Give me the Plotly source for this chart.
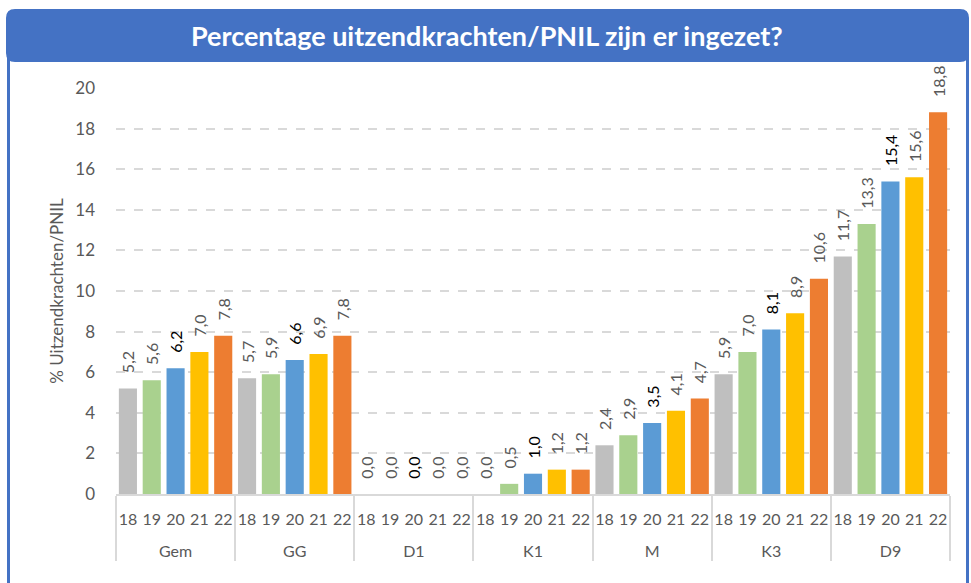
import plotly.graph_objects as go

groups = ["Gem", "GG", "D1", "K1", "M", "K3", "D9"]
years = ["18", "19", "20", "21", "22"]
values = {
    "Gem": [5.2, 5.6, 6.2, 7.0, 7.8],
    "GG": [5.7, 5.9, 6.6, 6.9, 7.8],
    "D1": [0.0, 0.0, 0.0, 0.0, 0.0],
    "K1": [0.0, 0.5, 1.0, 1.2, 1.2],
    "M": [2.4, 2.9, 3.5, 4.1, 4.7],
    "K3": [5.9, 7.0, 8.1, 8.9, 10.6],
    "D9": [11.7, 13.3, 15.4, 15.6, 18.8],
}
year_colors = ["#BFBFBF", "#A9D18E", "#5B9BD5", "#FFC000", "#ED7D31"]
label_colors = ["#595959", "#595959", "#000000", "#595959", "#595959"]
title = "Percentage uitzendkrachten/PNIL zijn er ingezet?"
y_title = "% Uitzendkrachten/PNIL"

W, H = 971, 583
L, R, T, B = 116, 21, 88, 89
PW, PH = W - L - R, H - T - B


def px(p):
    return (p - L) / PW


def py(q):
    return (H - B - q) / PH


xg, xy, yv, cols, tcols, texts = [], [], [], [], [], []
for g in groups:
    for i, yr in enumerate(years):
        v = values[g][i]
        xg.append("\u00a0<br>" + g)
        xy.append(yr)
        yv.append(v)
        cols.append(year_colors[i])
        tcols.append(label_colors[i])
        texts.append(f"{v:.1f}".replace(".", ","))

FONT = "Lato"

fig = go.Figure(
    go.Bar(
        x=[xg, xy],
        y=yv,
        marker=dict(color=cols, line=dict(width=0)),
        text=texts,
        texttemplate="\u00a0\u00a0\u00a0%{text}",
        textposition="outside",
        textangle=-90,
        constraintext="none",
        textfont=dict(color=tcols, size=16, family=FONT),
        cliponaxis=False,
        hoverinfo="skip",
    )
)


def rounded(x0, y0, x1, y1, r):
    rx, ry = r / PW, r / PH
    X0, X1 = px(x0), px(x1)
    Y0, Y1 = py(y0), py(y1)  # Y0 top (larger), Y1 bottom
    return (
        f"M {X0+rx},{Y0} L {X1-rx},{Y0} Q {X1},{Y0} {X1},{Y0-ry} "
        f"L {X1},{Y1+ry} Q {X1},{Y1} {X1-rx},{Y1} "
        f"L {X0+rx},{Y1} Q {X0},{Y1} {X0},{Y1+ry} "
        f"L {X0},{Y0-ry} Q {X0},{Y0} {X0+rx},{Y0} Z"
    )


shapes = [
    dict(type="line", xref="paper", yref="paper", x0=px(8.5), x1=px(8.5),
         y0=py(40), y1=py(590), line=dict(color="#4472C4", width=3), layer="below"),
    dict(type="line", xref="paper", yref="paper", x0=px(967.5), x1=px(967.5),
         y0=py(40), y1=py(590), line=dict(color="#4472C4", width=3), layer="below"),
    dict(type="path", xref="paper", yref="paper", path=rounded(6, 9, 969, 62, 9),
         fillcolor="#4472C4", line=dict(width=0), layer="above"),
]

fig.update_layout(
    width=W,
    height=H,
    margin=dict(l=L, r=R, t=T, b=B, pad=0, autoexpand=False),
    paper_bgcolor="white",
    plot_bgcolor="white",
    font=dict(family=FONT, color="#595959", size=16),
    showlegend=False,
    bargap=0.24,
    shapes=shapes,
    annotations=[
        dict(text=f"<b>{title}</b>", xref="paper", yref="paper", x=px(487), y=py(36),
             showarrow=False, font=dict(color="white", size=27, family=FONT),
             xanchor="center", yanchor="middle"),
    ],
)

fig.update_yaxes(
    range=[0, 20],
    dtick=2,
    automargin=False,
    showgrid=True,
    gridcolor="#D9D9D9",
    gridwidth=1.5,
    griddash="dash",
    zeroline=False,
    showline=False,
    ticks="",
    ticklabelstandoff=20,
    tickfont=dict(size=17, color="#595959"),
    title=dict(text=y_title, font=dict(size=17, color="#595959"), standoff=7),
)
fig.update_xaxes(
    type="multicategory",
    automargin=False,
    tickangle=0,
    ticklabelstandoff=10,
    showline=True,
    linecolor="#D9D9D9",
    linewidth=2,
    ticks="",
    showdividers=True,
    dividercolor="#D9D9D9",
    dividerwidth=2,
    tickfont=dict(size=16, color="#595959"),
    showgrid=False,
)

fig.write_html(
    "out.html",
    config={"displayModeBar": False},
    post_script="document.body.style.margin='0';document.body.style.padding='0';",
)
